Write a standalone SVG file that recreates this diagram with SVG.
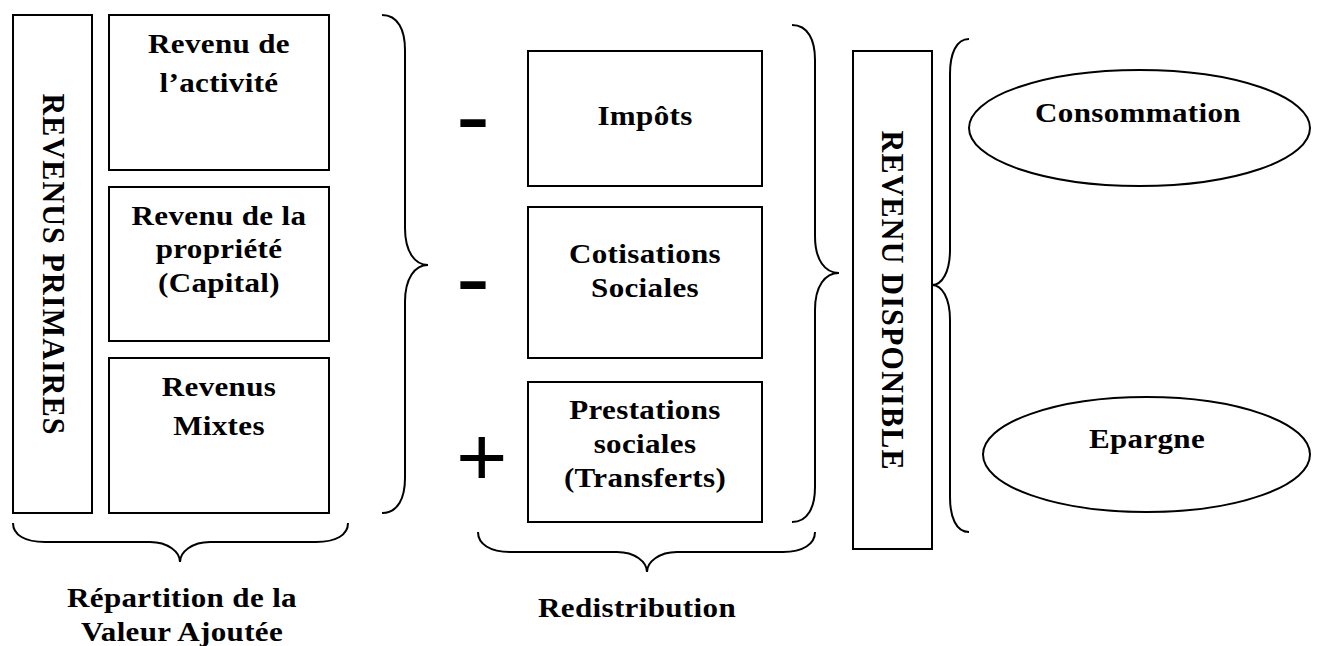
<svg xmlns="http://www.w3.org/2000/svg" width="1317" height="646" viewBox="0 0 1317 646">
<style>
.box{fill:#fff;stroke:#000;stroke-width:2}
.br{fill:none;stroke:#000;stroke-width:2}
.t{font-family:"Liberation Serif","Times New Roman",serif;font-weight:bold;font-size:27px;fill:#000;text-anchor:middle;letter-spacing:0.3px}
.vt{font-size:30px;letter-spacing:0}
.op{font-family:"Liberation Sans",Arial,sans-serif;fill:#000}
</style>
<rect width="1317" height="646" fill="#fff"/>
<g id="revenus-primaires">
<rect class="box" x="13" y="15" width="79" height="498"/>
<text class="t vt" transform="translate(42.5,264) rotate(90) scale(1,1.03)" textLength="341" lengthAdjust="spacing">REVENUS PRIMAIRES</text>
</g>
<g id="revenu-activite">
<rect class="box" x="109" y="15" width="220" height="155"/>
<text class="t" transform="matrix(1.15 0 0 1 219 53)">Revenu de</text>
<text class="t" transform="matrix(1.15 0 0 1 219 92)">l’activité</text>
</g>
<g id="revenu-propriete">
<rect class="box" x="109" y="187" width="220" height="154"/>
<text class="t" transform="matrix(1.15 0 0 1 219 225)">Revenu de la</text>
<text class="t" transform="matrix(1.15 0 0 1 219 258)">propriété</text>
<text class="t" transform="matrix(1.15 0 0 1 219 292)">(Capital)</text>
</g>
<g id="revenus-mixtes">
<rect class="box" x="109" y="358" width="220" height="155"/>
<text class="t" transform="matrix(1.15 0 0 1 219 396)">Revenus</text>
<text class="t" transform="matrix(1.15 0 0 1 219 435)">Mixtes</text>
</g>
<g id="impots">
<rect class="box" x="528" y="51" width="234" height="135"/>
<text class="t" transform="matrix(1.15 0 0 1 645 125)">Impôts</text>
</g>
<g id="cotisations">
<rect class="box" x="528" y="207" width="234" height="151"/>
<text class="t" transform="matrix(1.15 0 0 1 645 263)">Cotisations</text>
<text class="t" transform="matrix(1.15 0 0 1 645 297)">Sociales</text>
</g>
<g id="prestations">
<rect class="box" x="528" y="382" width="234" height="140"/>
<text class="t" transform="matrix(1.15 0 0 1 645 419)">Prestations</text>
<text class="t" transform="matrix(1.15 0 0 1 645 453)">sociales</text>
<text class="t" transform="matrix(1.15 0 0 1 645 487)">(Transferts)</text>
</g>
<g id="revenu-disponible">
<rect class="box" x="853" y="51" width="79" height="498"/>
<text class="t vt" transform="translate(882,300) rotate(90) scale(1,1.03)" textLength="339" lengthAdjust="spacing">REVENU DISPONIBLE</text>
</g>
<g id="consommation">
<ellipse class="box" cx="1139.5" cy="128" rx="170.5" ry="58"/>
<text class="t" transform="matrix(1.15 0 0 1 1138 122)">Consommation</text>
</g>
<g id="epargne">
<ellipse class="box" cx="1146.5" cy="454.5" rx="163.5" ry="57.5"/>
<text class="t" transform="matrix(1.15 0 0 1 1147 448)">Epargne</text>
</g>
<g id="operators">
<text class="op" font-weight="bold" font-size="64" transform="matrix(1.55 0 0 1 456.5 139.5)">-</text>
<text class="op" font-weight="bold" font-size="64" transform="matrix(1.55 0 0 1 456.5 302)">-</text>
<text class="op" font-size="84" transform="matrix(1.05 0 0 1 456 485)">+</text>
</g>
<g id="connectors">
<path class="br" d="M382,15 C398,15 405,30 405,50 L405,228 C405,252 415,265 428,265 C415,265 405,278 405,302 L405,478 C405,498 398,513 382,513"/>
<path class="br" d="M13,523 C13,535 25,542 45,542 L150,542 C168,542 180,552 180,562 C180,552 192,542 210,542 L316,542 C336,542 348,535 348,523"/>
<path class="br" d="M792,25 C808,25 815,40 815,60 L815,236 C815,260 825,273 839,273 C825,273 815,286 815,310 L815,487 C815,507 808,522 792,522"/>
<path class="br" d="M478,532 C478,544 490,552 510,552 L617,552 C635,552 647,562 647,572 C647,562 659,552 677,552 L783,552 C803,552 815,544 815,532"/>
<path class="br" d="M969,39 C956,39 950,54 950,74 L950,250 C950,272 942,285 932,285 C942,285 950,298 950,320 L950,497 C950,517 956,532 969,532"/>
</g>
<g id="labels">
<text class="t" transform="matrix(1.15 0 0 1 182 607)">Répartition de la</text>
<text class="t" transform="matrix(1.15 0 0 1 182 641)">Valeur Ajoutée</text>
<text class="t" transform="matrix(1.15 0 0 1 637 617)">Redistribution</text>
</g>
</svg>
